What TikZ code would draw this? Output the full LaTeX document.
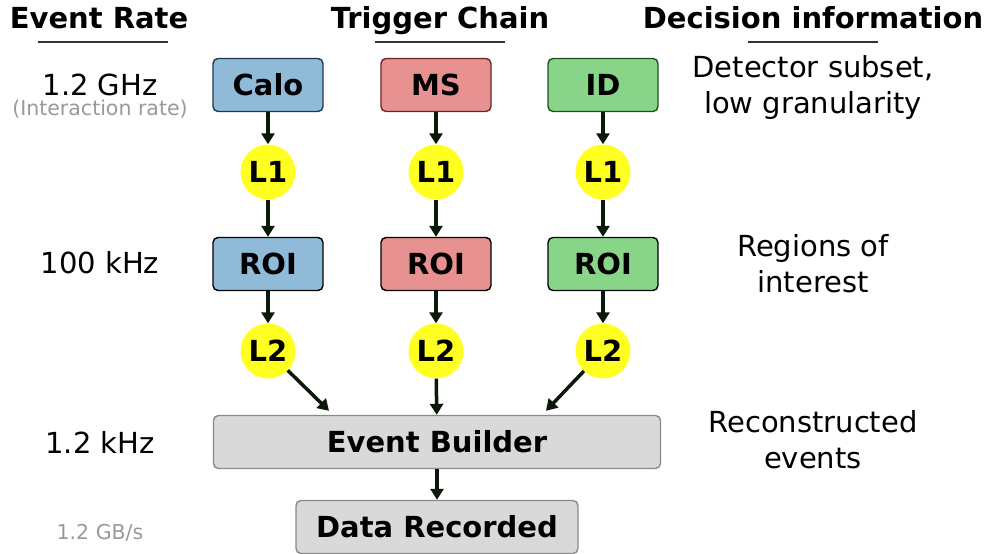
\documentclass[tikz,border=0pt]{standalone}
\usepackage{fontspec}
\setmainfont{DejaVu Sans}
\usetikzlibrary{arrows.meta,calc}
\definecolor{calofill}{HTML}{8FBBD9}
\definecolor{calodraw}{HTML}{1C3850}
\definecolor{msfill}{HTML}{E89191}
\definecolor{msdraw}{HTML}{6E2424}
\definecolor{idfill}{HTML}{88D488}
\definecolor{iddraw}{HTML}{1D4F1D}
\definecolor{trigyellow}{HTML}{FFFF22}
\definecolor{ebfill}{HTML}{D9D9D9}
\definecolor{ebdraw}{HTML}{8A8A8A}
\definecolor{arrowc}{HTML}{0A190A}
\definecolor{subgray}{HTML}{999999}
\definecolor{rulegray}{HTML}{333333}
\begin{document}
\begin{tikzpicture}[x=1pt,y=-1pt,
  bigtext/.style={font=\fontsize{29}{36}\selectfont, align=center, inner sep=0},
  hdr/.style={font=\fontsize{29}{34}\selectfont\bfseries, inner sep=0, anchor=base},
  subtext/.style={font=\fontsize{20.5}{24}\selectfont, text=subgray, inner sep=0, anchor=base},
  stagebox/.style={draw, rounded corners=5pt, minimum width=110pt, minimum height=53pt, line width=1.4pt, inner sep=0, font=\fontsize{29}{34}\selectfont\bfseries},
  trig/.style={circle, fill=trigyellow, minimum size=55pt, inner sep=0, font=\fontsize{29}{34}\selectfont\bfseries},
  widebox/.style={draw=ebdraw, fill=ebfill, rounded corners=5pt, minimum height=53pt, line width=1.4pt, inner sep=0, font=\fontsize{29}{34}\selectfont\bfseries},
  arr/.style={line width=3.5pt, draw=arrowc, -{Triangle[length=11pt,width=13pt]}},
  hrule/.style={draw=rulegray, line width=1.3pt}]
\useasboundingbox (0,0) rectangle (988,554);

% headers
\node[hdr] (h1) at (99,28) {Event Rate};
\node[hdr] (h2) at (440,28) {Trigger Chain};
\node[hdr] (h3) at (813,28) {Decision information};
\draw[hrule] (38,42) -- (168,42);
\draw[hrule] (375,42) -- (505,42);
\draw[hrule] (748,42) -- (878,42);

% left column
\node[bigtext, anchor=base] (r1) at (100,95) {1.2 GHz};
\node[subtext] (r1s) at (100,115) {(Interaction rate)};
\node[bigtext, anchor=base] (r2) at (100,273) {100 kHz};
\node[bigtext, anchor=base] (r3) at (100,453) {1.2 kHz};
\node[subtext] (r4) at (100,539) {1.2 GB/s};

% right column (base anchor = last line baseline)
\node[bigtext, anchor=base] (d1) at (813,113) {Detector subset,\\low granularity};
\node[bigtext, anchor=base] (d2) at (813,292) {Regions of\\interest};
\node[bigtext, anchor=base] (d3) at (813,468) {Reconstructed\\events};

% detector boxes
\node[stagebox, fill=calofill, draw=calodraw] (calo) at (268,85) {Calo};
\node[stagebox, fill=msfill, draw=msdraw] (ms) at (436,85) {MS};
\node[stagebox, fill=idfill, draw=iddraw] (id) at (603,85) {ID};

% L1
\node[trig] (l1a) at (268,172) {L1};
\node[trig] (l1b) at (436,172) {L1};
\node[trig] (l1c) at (603,172) {L1};

% ROI
\node[stagebox, fill=calofill, draw=black] (roia) at (268,264) {ROI};
\node[stagebox, fill=msfill, draw=black] (roib) at (436,264) {ROI};
\node[stagebox, fill=idfill, draw=black] (roic) at (603,264) {ROI};

% L2
\node[trig] (l2a) at (268,351) {L2};
\node[trig] (l2b) at (436,351) {L2};
\node[trig] (l2c) at (603,351) {L2};

% event builder and recorder
\node[widebox, minimum width=447pt] (eb) at (437,442) {Event Builder};
\node[widebox, minimum width=282pt] (dr) at (437,527) {Data Recorded};

\coordinate (ebl) at ($(eb.north)+(-108,-4)$);
\coordinate (ebr) at ($(eb.north)+(109,-4)$);

% arrows
\draw[arr] (calo) -- (l1a);
\draw[arr] (ms) -- (l1b);
\draw[arr] (id) -- (l1c);
\draw[arr] (l1a) -- (roia);
\draw[arr] (l1b) -- (roib);
\draw[arr] (l1c) -- (roic);
\draw[arr] (roia) -- (l2a);
\draw[arr] (roib) -- (l2b);
\draw[arr] (roic) -- (l2c);
\draw[arr] (l2a) -- (ebl);
\draw[arr] (l2b) -- (eb);
\draw[arr] (l2c) -- (ebr);
\draw[arr] (eb) -- (dr);
\end{tikzpicture}
\end{document}
